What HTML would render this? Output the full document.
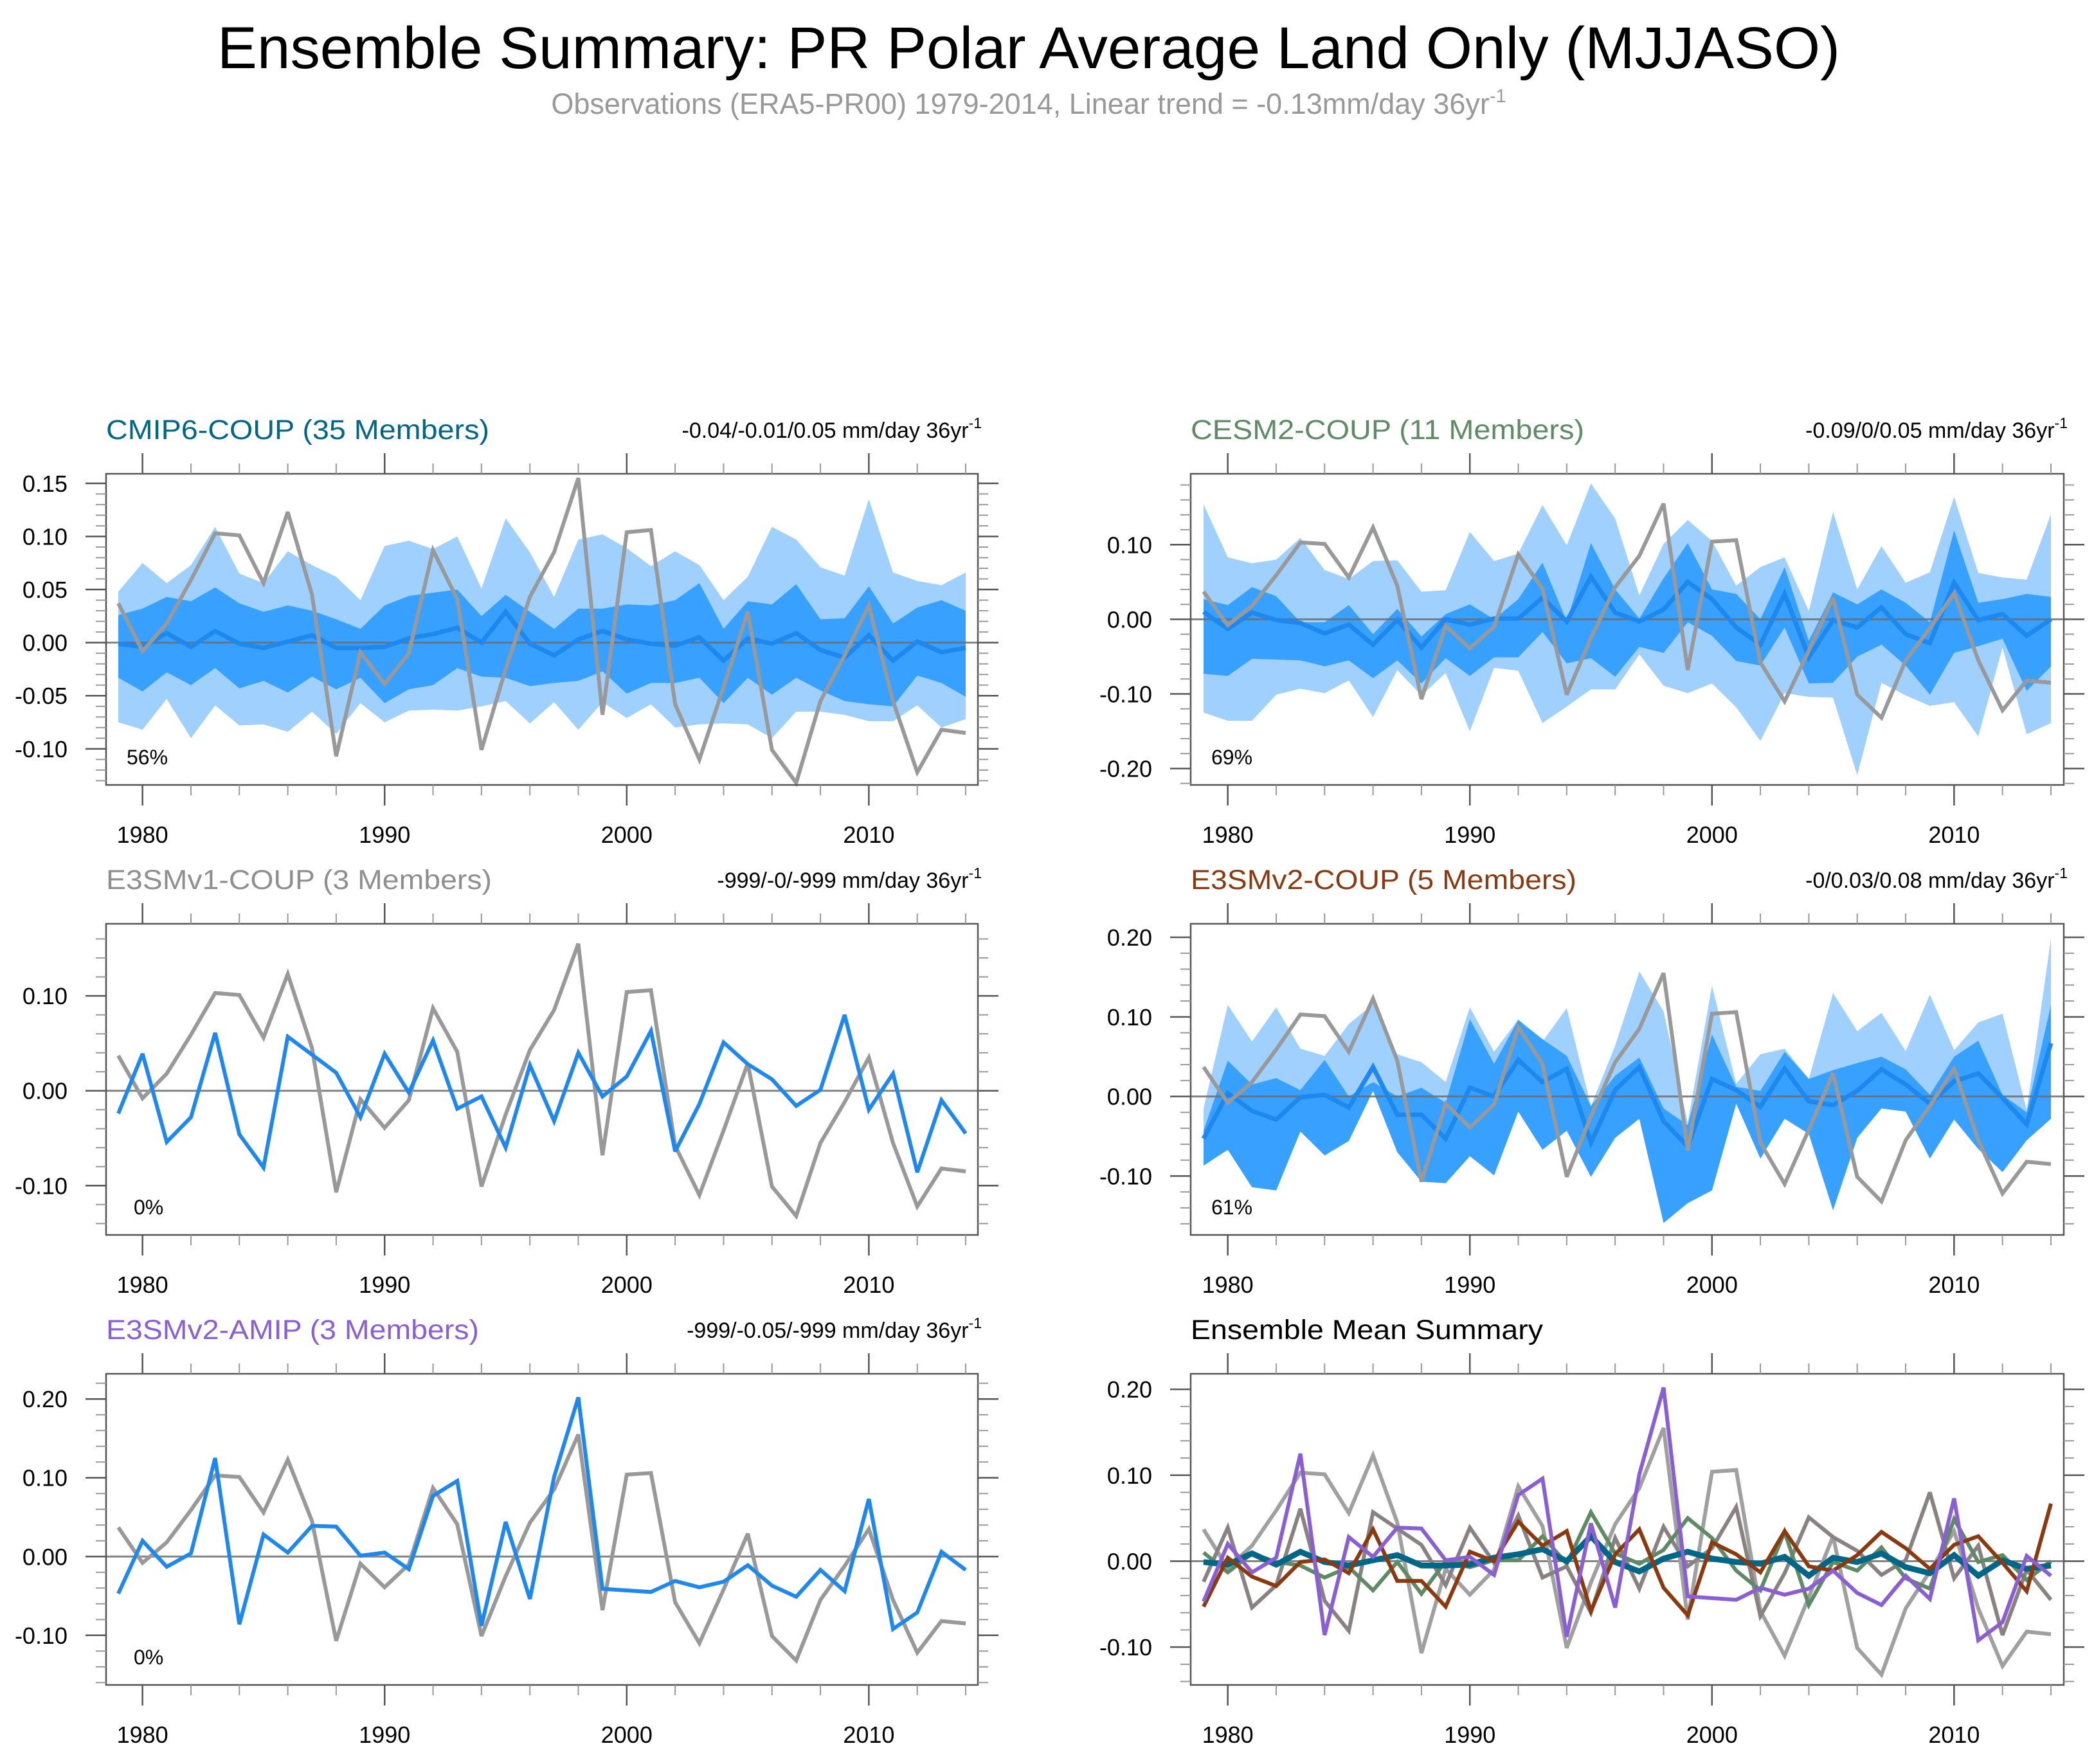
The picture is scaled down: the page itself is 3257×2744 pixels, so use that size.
<!DOCTYPE html>
<html><head><meta charset="utf-8"><title>Ensemble Summary</title>
<style>html,body{margin:0;padding:0;background:#fff;}svg{display:block;}</style>
</head><body>
<svg id="fig" xmlns="http://www.w3.org/2000/svg" width="3257" height="2744" viewBox="0 0 3257 2744" font-family="'Liberation Sans', Arial, sans-serif">
<rect x="0" y="0" width="3257" height="2744" fill="#fff"/>
<text x="1600" y="106" font-size="92" text-anchor="middle" textLength="2524" lengthAdjust="spacingAndGlyphs" fill="#000">Ensemble Summary: PR Polar Average Land Only (MJJASO)</text>
<text x="1600" y="177" font-size="45" text-anchor="middle" fill="#999">Observations (ERA5-PR00) 1979-2014, Linear trend = -0.13mm/day 36yr<tspan font-size="29" dy="-18">-1</tspan></text>
</svg>
<script>
const years = [];
for (let y = 1979; y <= 2014; y++) years.push(y);
const obsValues = [0.037,-0.008,0.018,0.059,0.103,0.101,0.056,0.123,0.045,-0.107,-0.009,-0.039,-0.010,0.087,0.041,-0.101,-0.025,0.043,0.085,0.155,-0.068,0.104,0.106,-0.058,-0.110,-0.042,0.029,-0.101,-0.132,-0.055,-0.012,0.035,-0.055,-0.122,-0.082,-0.085];
// CMIP6
const cmipMean = [-0.001,-0.004,0.009,-0.004,0.011,-0.001,-0.005,0.001,0.007,-0.005,-0.005,-0.004,0.004,0.008,0.014,0,0.029,-0.001,-0.012,0.003,0.011,0.003,-0.001,-0.003,0.005,-0.017,0.004,-0.001,0.009,-0.007,-0.014,0.007,-0.017,0.001,-0.009,-0.005];
const cmipDarkHi = [0.026,0.032,0.043,0.039,0.052,0.037,0.029,0.035,0.030,0.022,0.013,0.035,0.044,0.047,0.050,0.025,0.045,0.029,0.013,0.032,0.032,0.036,0.035,0.040,0.056,0.013,0.039,0.036,0.055,0.022,0.023,0.053,0.018,0.033,0.040,0.030];
const cmipDarkLo = [-0.033,-0.046,-0.028,-0.040,-0.024,-0.043,-0.036,-0.047,-0.032,-0.044,-0.033,-0.057,-0.044,-0.040,-0.024,-0.032,-0.033,-0.041,-0.038,-0.036,-0.027,-0.048,-0.038,-0.038,-0.033,-0.057,-0.033,-0.049,-0.033,-0.045,-0.055,-0.058,-0.060,-0.031,-0.038,-0.051];
const cmipLightHi = [0.048,0.075,0.056,0.073,0.109,0.065,0.056,0.086,0.073,0.062,0.040,0.091,0.096,0.088,0.100,0.051,0.117,0.085,0.043,0.097,0.102,0.089,0.072,0.086,0.073,0.040,0.062,0.109,0.097,0.071,0.063,0.135,0.066,0.058,0.054,0.066];
const cmipLightLo = [-0.075,-0.082,-0.053,-0.090,-0.059,-0.078,-0.077,-0.084,-0.065,-0.086,-0.057,-0.075,-0.064,-0.063,-0.064,-0.060,-0.055,-0.076,-0.056,-0.082,-0.056,-0.071,-0.058,-0.080,-0.077,-0.076,-0.077,-0.090,-0.065,-0.065,-0.068,-0.074,-0.074,-0.059,-0.080,-0.072];
// CESM2
const cesmMean = [0.010,-0.013,0.009,-0.001,-0.005,-0.019,-0.007,-0.034,-0.001,-0.038,0,-0.007,0.001,0.001,0.029,-0.003,0.057,0.009,-0.003,0.013,0.050,0.027,-0.011,-0.034,0.034,-0.051,-0.001,-0.011,0.016,-0.020,-0.032,0.049,-0.001,0.007,-0.022,0];
const cesmDarkHi = [0.027,0.019,0.043,0.031,-0.004,-0.004,0.019,-0.020,0.014,-0.023,0.007,0.020,0,0.027,0.076,-0.003,0.102,0.040,0.001,0.055,0.102,0.040,0.034,0,0.070,-0.029,0.036,0.020,0.040,0.022,-0.004,0.119,0.022,0.027,0.034,0.030];
const cesmDarkLo = [-0.073,-0.076,-0.053,-0.054,-0.055,-0.063,-0.055,-0.079,-0.055,-0.086,-0.052,-0.076,-0.051,-0.051,-0.017,-0.059,-0.052,-0.077,-0.037,-0.045,-0.004,-0.022,-0.056,-0.062,-0.011,-0.086,-0.085,-0.050,-0.034,-0.062,-0.101,-0.045,-0.036,-0.026,-0.096,-0.063];
const cesmLightHi = [0.154,0.083,0.075,0.080,0.109,0.066,0.054,0.078,0.079,0.037,0.039,0.117,0.078,0.088,0.153,0.099,0.182,0.135,0.032,0.101,0.133,0.105,0.045,0.070,0.083,0.011,0.144,0.040,0.098,0.049,0.063,0.164,0.062,0.056,0.053,0.141];
const cesmLightLo = [-0.125,-0.136,-0.136,-0.101,-0.093,-0.099,-0.082,-0.131,-0.068,-0.102,-0.072,-0.150,-0.065,-0.069,-0.139,-0.117,-0.094,-0.094,-0.047,-0.089,-0.099,-0.086,-0.118,-0.163,-0.099,-0.104,-0.105,-0.209,-0.085,-0.102,-0.116,-0.111,-0.157,-0.038,-0.154,-0.139];
// E3SMv1
const v1Mean = [-0.024,0.039,-0.054,-0.028,0.061,-0.046,-0.081,0.057,0.038,0.019,-0.028,0.039,-0.002,0.053,-0.019,-0.006,-0.060,0.027,-0.032,0.040,-0.006,0.015,0.063,-0.064,-0.014,0.051,0.028,0.012,-0.016,0.001,0.080,-0.020,0.018,-0.086,-0.010,-0.045];
// E3SMv2-COUP
const v2Mean = [-0.053,0.004,-0.018,-0.029,-0.001,0.002,-0.014,0.037,-0.023,-0.023,-0.053,0.011,0,0.046,0.018,0.035,-0.058,0.008,0.037,-0.031,-0.063,0.022,0.008,-0.013,0.035,-0.006,-0.011,0.007,0.034,0.015,-0.009,0.019,0.029,-0.002,-0.035,0.067];
const v2DarkHi = [-0.043,0.045,0.015,0.023,0.008,0.046,0,0.018,0,0.011,-0.008,0.097,0.041,0.096,0.072,0.051,-0.012,0.026,0.049,-0.015,-0.036,0.078,0.012,0.007,0.056,0.022,0.033,0.042,0.050,0.034,0.002,0.050,0.070,0.002,-0.020,0.115];
const v2DarkLo = [-0.087,-0.067,-0.114,-0.118,-0.044,-0.074,-0.056,0.007,-0.070,-0.107,-0.109,-0.075,-0.099,-0.019,-0.067,-0.043,-0.101,-0.052,-0.028,-0.159,-0.134,-0.118,-0.009,-0.078,-0.028,-0.047,-0.143,-0.052,-0.015,-0.019,-0.078,-0.029,-0.066,-0.095,-0.055,-0.028];
const v2LightHi = [-0.015,0.115,0.069,0.112,0.060,0.051,0.091,0.116,0.053,0.043,0.018,0.112,0.056,0.097,0.069,0.111,-0.012,0.064,0.157,0.107,-0.033,0.139,0.016,0.053,0.060,0.022,0.130,0.082,0.105,0.057,0.128,0.058,0.093,0.104,-0.017,0.198];
const v2LightLo = v2DarkLo.slice();
// E3SMv2-AMIP
const amipMean = [-0.047,0.020,-0.013,0.004,0.125,-0.086,0.028,0.005,0.039,0.038,0.001,0.005,-0.016,0.077,0.096,-0.088,0.044,-0.054,0.101,0.202,-0.041,-0.043,-0.045,-0.031,-0.039,-0.032,-0.011,-0.037,-0.051,-0.017,-0.044,0.073,-0.092,-0.071,0.006,-0.017];

const xTickYears = [1980,1990,2000,2010];
const pctLabels = ["56%","69%","0%","61%","0%"];

const svg = document.getElementById('fig');
const NS = 'http://www.w3.org/2000/svg';
function mk(tag, attrs, parent) {
  const e = document.createElementNS(NS, tag);
  for (const k in attrs) e.setAttribute(k, attrs[k]);
  (parent || svg).appendChild(e);
  return e;
}

const panels = [
  {key:'cmip6', L:165, R:1521, T:737, B:1221, x0:184, x1:1502, ymin:-0.134, ymax:0.159, major:[-0.10,-0.05,0,0.05,0.10,0.15], dec:2, minor:0.01,
   title:'CMIP6-COUP (35 Members)', tcol:'#006687', tlen:596, trend:'-0.04/-0.01/0.05 mm/day 36yr', pct:pctLabels[0],
   bands:[[cmipLightHi,cmipLightLo],[cmipDarkHi,cmipDarkLo]], mean:cmipMean},
  {key:'cesm2', L:1852, R:3210, T:737, B:1221, x0:1872, x1:3190, ymin:-0.222, ymax:0.195, major:[-0.2,-0.1,0,0.1], dec:2, minor:0.02,
   title:'CESM2-COUP (11 Members)', tcol:'#5e8b63', tlen:612, trend:'-0.09/0/0.05 mm/day 36yr', pct:pctLabels[1],
   bands:[[cesmLightHi,cesmLightLo],[cesmDarkHi,cesmDarkLo]], mean:cesmMean},
  {key:'e3smv1', L:165, R:1521, T:1437, B:1921, x0:184, x1:1502, ymin:-0.152, ymax:0.176, major:[-0.1,0,0.1], dec:2, minor:0.02,
   title:'E3SMv1-COUP (3 Members)', tcol:'#8f8f8f', tlen:600, trend:'-999/-0/-999 mm/day 36yr', pct:pctLabels[2],
   bands:[], mean:v1Mean},
  {key:'e3smv2', L:1852, R:3210, T:1437, B:1921, x0:1872, x1:3190, ymin:-0.174, ymax:0.217, major:[-0.1,0,0.1,0.2], dec:2, minor:0.02,
   title:'E3SMv2-COUP (5 Members)', tcol:'#8b3a10', tlen:600, trend:'-0/0.03/0.08 mm/day 36yr', pct:pctLabels[3],
   bands:[[v2LightHi,v2LightLo],[v2DarkHi,v2DarkLo]], mean:v2Mean},
  {key:'amip', L:165, R:1521, T:2137, B:2621, x0:184, x1:1502, ymin:-0.163, ymax:0.232, major:[-0.1,0,0.1,0.2], dec:2, minor:0.02,
   title:'E3SMv2-AMIP (3 Members)', tcol:'#8a5fd3', tlen:580, trend:'-999/-0.05/-999 mm/day 36yr', pct:pctLabels[4],
   bands:[], mean:amipMean},
  {key:'summary', L:1852, R:3210, T:2137, B:2621, x0:1872, x1:3190, ymin:-0.144, ymax:0.218, major:[-0.1,0,0.1,0.2], dec:2, minor:0.02,
   title:'Ensemble Mean Summary', tcol:'#000', tlen:548, trend:null, pct:null, bands:[], mean:null}
];

panels.forEach(p => {
  const g = mk('g', {});
  
  
  const xs = yr => p.x0 + (yr - 1979) * (p.x1 - p.x0) / 35;
  const ys = v => p.B - (v - p.ymin) * (p.B - p.T) / (p.ymax - p.ymin);

  const t = mk('text', {x:p.L, y:p.T - 54, 'font-size':43, fill:p.tcol, textLength:p.tlen, lengthAdjust:'spacingAndGlyphs'}, g);
  t.textContent = p.title;
  
  
  if (p.trend) {
    const tr = mk('text', {x:p.R + 6, y:p.T - 56, 'font-size':34, 'text-anchor':'end', fill:'#000'}, g);
    tr.textContent = p.trend;
    const sup = mk('tspan', {'font-size':23, dy:-15}, tr);
    sup.textContent = '-1';
    
    
  }

  p.bands.forEach((b, bi) => {
    let pts = [];
    years.forEach((yr, i) => pts.push(xs(yr).toFixed(1) + ',' + ys(b[0][i]).toFixed(1)));
    for (let i = years.length - 1; i >= 0; i--) pts.push(xs(years[i]).toFixed(1) + ',' + ys(b[1][i]).toFixed(1));
    const poly = mk('polygon', {points:pts.join(' '), fill: bi === 0 ? '#9fd0fe' : '#38a0ff', stroke:'none'}, g);
    
    
  });

  const z = mk('line', {x1:p.L, x2:p.R, y1:ys(0), y2:ys(0), stroke:'#6e6e6e', 'stroke-width':3, opacity:0.85}, g);
  
  

  function line(vals, col, w, name) {
    const pts = years.map((yr, i) => xs(yr).toFixed(1) + ',' + ys(vals[i]).toFixed(1)).join(' ');
    const l = mk('polyline', {points:pts, fill:'none', stroke:col, 'stroke-width':w, 'stroke-linejoin':'miter', 'stroke-miterlimit':3}, g);
    
    
  }

  if (p.key === 'summary') {
    line(obsValues, '#a0a0a0', 6, 'obs-line');
    line(v1Mean, '#8a8282', 6, 'e3smv1-mean-line');
    line(cesmMean, '#5e8b63', 6, 'cesm2-mean-line');
    line(cmipMean, '#006687', 9, 'cmip6-mean-line');
    line(v2Mean, '#8b3a10', 6, 'e3smv2-mean-line');
    line(amipMean, '#8a5fd3', 6, 'amip-mean-line');
  } else if (p.bands.length) {
    line(p.mean, '#1e88ee', 7, 'ensemble-mean-line');
    line(obsValues, '#999999', 6, 'obs-line');
  } else {
    line(obsValues, '#999999', 6, 'obs-line');
    line(p.mean, '#1e88ee', 6, 'ensemble-mean-line');
  }

  const fr = mk('rect', {x:p.L, y:p.T, width:p.R - p.L, height:p.B - p.T, fill:'none', stroke:'#555', 'stroke-width':2.5}, g);
  
  

  const nMin = Math.ceil(p.ymin / p.minor - 1e-6), nMax = Math.floor(p.ymax / p.minor + 1e-6);
  for (let k = nMin; k <= nMax; k++) {
    const v = k * p.minor, yy = ys(v);
    const isMajor = p.major.some(m => Math.abs(m - v) < 1e-6);
    const len = isMajor ? 32 : 16;
    mk('line', {x1:p.L - len, x2:p.L, y1:yy, y2:yy, stroke: isMajor ? '#555' : '#999', 'stroke-width':isMajor ? 2.5 : 2}, g);
    mk('line', {x1:p.R, x2:p.R + len, y1:yy, y2:yy, stroke: isMajor ? '#555' : '#999', 'stroke-width':isMajor ? 2.5 : 2}, g);
  }
  p.major.forEach(m => {
    const lab = mk('text', {x:p.L - 60, y:ys(m) + 13, 'font-size':36, 'text-anchor':'end', fill:'#000'}, g);
    lab.textContent = m.toFixed(p.dec);
    
    
  });

  for (let yr = 1980; yr <= 2014; yr += 2) {
    const isMajor = xTickYears.indexOf(yr) >= 0;
    const len = isMajor ? 32 : 16, xx = xs(yr);
    mk('line', {x1:xx, x2:xx, y1:p.T - len, y2:p.T, stroke: isMajor ? '#555' : '#999', 'stroke-width':isMajor ? 2.5 : 2}, g);
    mk('line', {x1:xx, x2:xx, y1:p.B, y2:p.B + len, stroke: isMajor ? '#555' : '#999', 'stroke-width':isMajor ? 2.5 : 2}, g);
  }
  xTickYears.forEach(yr => {
    const lab = mk('text', {x:xs(yr), y:p.B + 90, 'font-size':36, 'text-anchor':'middle', fill:'#000'}, g);
    lab.textContent = String(yr);
    
    
  });

  if (p.pct) {
    const pc = mk('text', {x:p.L + (p.pct.length > 2 ? 32 : 43), y:p.B - 32, 'font-size':32, fill:'#000'}, g);
    pc.textContent = p.pct;
    
    
  }
});
</script>
</body></html>
